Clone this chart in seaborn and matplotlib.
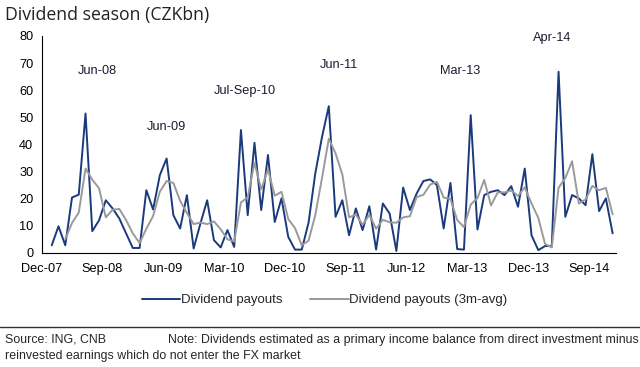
import numpy as np
import pandas as pd
import seaborn as sns
import matplotlib.pyplot as plt

# Monthly dividend payouts, Jan-08 .. Dec-14 (CZKbn)
payouts = [2.8, 9.8, 2.8, 20.4, 21.5, 51.4, 8.0, 12.0, 19.4, 16.4, 12.7, 7.2,
           1.8, 1.8, 23.1, 16.0, 28.7, 34.8, 13.9, 9.0, 21.3, 1.6, 10.8, 19.4,
           4.7, 2.0, 8.4, 2.2, 45.3, 13.9, 40.6, 15.8, 36.1, 11.4, 20.1, 5.9,
           1.2, 1.2, 11.1, 29.3, 42.8, 54.1, 13.3, 19.4, 6.5, 16.4, 8.4, 17.2,
           1.2, 18.2, 14.5, 0.7, 24.1, 15.8, 21.9, 26.5, 27.1, 25.0, 9.0, 25.8,
           1.4, 1.2, 50.8, 8.6, 21.3, 22.5, 23.1, 21.3, 24.6, 17.0, 31.1, 6.5,
           1.0, 2.5, 2.6, 66.8, 13.3, 21.3, 20.1, 17.6, 36.4, 15.4, 20.1, 7.2]

payouts_3m = [np.nan, np.nan, 5.1, 11.0, 14.9, 31.1, 27.0, 23.8, 13.1, 15.9, 16.2, 12.1,
              7.2, 3.6, 8.9, 13.6, 22.6, 26.5, 25.8, 19.2, 14.7, 10.6, 11.2, 10.6,
              11.6, 8.7, 5.0, 4.2, 18.6, 20.5, 33.3, 23.4, 30.8, 21.1, 22.5, 12.5,
              9.1, 2.8, 4.5, 13.9, 27.7, 42.1, 36.7, 28.9, 13.1, 14.1, 10.4, 14.0,
              8.9, 12.2, 11.3, 11.1, 13.1, 13.5, 20.6, 21.4, 25.2, 26.2, 20.4, 19.9,
              12.1, 9.5, 17.8, 20.2, 26.9, 17.5, 22.3, 22.3, 23.0, 21.0, 24.2, 18.2,
              12.9, 3.3, 2.0, 24.0, 27.6, 33.8, 18.2, 19.7, 24.7, 23.1, 24.0, 14.2]

tick_labels = ["Dec-07", "Sep-08", "Jun-09", "Mar-10", "Dec-10",
               "Sep-11", "Jun-12", "Mar-13", "Dec-13", "Sep-14"]

notes = ["Jun-08", "Jun-09", "Jul-Sep-10", "Jun-11", "Mar-13", "Apr-14"]
note_pos = [(6.8, 67), (17.0, 46.4), (28.6, 59.7), (42.5, 69.3), (60.4, 67), (74.0, 79.2)]

df = pd.DataFrame({
    "month": np.arange(len(payouts)),
    "Dividend payouts": payouts,
    "Dividend payouts (3m-avg)": payouts_3m,
})
long = df.melt(id_vars="month", var_name="series", value_name="value")

sns.set_style("white")
plt.rcParams['font.family'] = ['Liberation Sans', 'DejaVu Sans']

fig = plt.figure(figsize=(6.4, 3.67), dpi=100)
ax = fig.add_axes([0.065, 0.311, 0.8975, 0.591])

sns.lineplot(data=long, x="month", y="value", hue="series",
             palette=["#1b3a7c", "#9a9a9a"], linewidth=1.4, ax=ax)

ax.set_xlim(-1.5, 83.5)
ax.set_ylim(0, 80)
ax.set_yticks(range(0, 81, 10))
ax.set_xticks(np.arange(-1.5, 83, 9))
ax.set_xticklabels(tick_labels)
ax.set_xlabel("")
ax.set_ylabel("")
ax.tick_params(axis='both', labelsize=9.2, colors='black', direction='out',
               length=3, width=0.8, pad=3)
ax.tick_params(axis='x', pad=4)
for s in ["top", "right"]:
    ax.spines[s].set_visible(False)
for s in ["left", "bottom"]:
    ax.spines[s].set_color("black")
    ax.spines[s].set_linewidth(0.8)

for txt, (x, y) in zip(notes, note_pos):
    ax.text(x, y, txt, ha='center', va='center', fontsize=9.2, color='#1a1a33')

ax.legend(loc='center', bbox_to_anchor=(0.493, -0.218), ncol=2, frameon=False,
          fontsize=9.5, handlelength=2.9, columnspacing=2.1, handletextpad=0.05)

fig.text(0.008, 0.958, "Dividend season (CZKbn)", fontsize=12.7, va='center',
         family=['Open Sans', 'DejaVu Sans'], color='#222222')

fig.add_artist(plt.Line2D([0, 1], [1 - 327 / 367] * 2, color='#333333', linewidth=1.0))
fig.text(0.008, 1 - 340 / 367, "Source: ING, CNB", fontsize=8.9, va='center')
fig.text(0.2625, 1 - 340 / 367,
         "Note: Dividends estimated as a primary income balance from direct investment minus",
         fontsize=8.9, va='center')
fig.text(0.008, 1 - 356 / 367, "reinvested earnings which do not enter the FX market",
         fontsize=8.9, va='center')

fig.savefig("out.png", dpi=100)
